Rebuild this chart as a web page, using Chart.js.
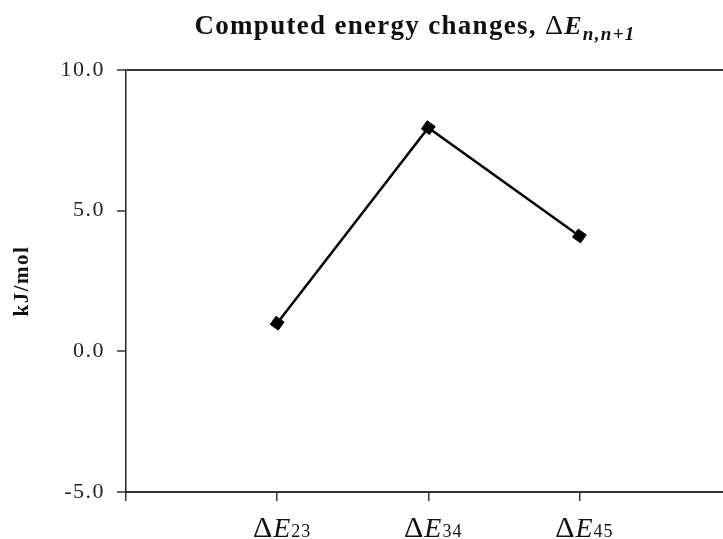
<!DOCTYPE html>
<html>
<head>
<meta charset="utf-8">
<script src="https://cdn.jsdelivr.net/npm/chart.js@4.4.0/dist/chart.umd.min.js"></script>
<style>
  html, body { margin: 0; padding: 0; background: #fff; overflow: hidden; }
  #wrap { width: 723px; height: 539px; }
</style>
</head>
<body>
<div id="wrap"><canvas id="chart"></canvas></div>
<script>
// data
var categories = ['23', '34', '45'];      // subscripts of ΔE
var energies = [1.0, 7.95, 4.1];          // kJ/mol
var yTicks = [-5, 0, 5, 10];

var serif = "'Liberation Serif', 'Times New Roman', serif";

// wider letter spacing like the original rendering
var spacingPlugin = {
  id: 'spacing',
  beforeDraw: function(chart) { chart.ctx.letterSpacing = '1.5px'; }
};

// draws the title and the category labels (they need italic + subscripts)
var textPlugin = {
  id: 'richText',
  afterDraw: function(chart) {
    var ctx = chart.ctx;
    ctx.save();
    ctx.fillStyle = '#111';
    ctx.textBaseline = 'alphabetic';
    ctx.textAlign = 'left';
    ctx.letterSpacing = '1.3px';

    // title
    var parts = [
      { t: 'Computed energy changes, ', f: 'bold 27px ' + serif, dy: 0 },
      { t: '\u0394', f: '28px ' + serif, dy: 0 },
      { t: 'E', f: 'italic bold 26px ' + serif, dy: 0 },
      { t: 'n,n+1', f: 'italic bold 19px ' + serif, dy: 6 }
    ];
    var total = 0;
    parts.forEach(function(p) { ctx.font = p.f; p.w = ctx.measureText(p.t).width; total += p.w; });
    var x = 415 - total / 2;
    parts.forEach(function(p) { ctx.font = p.f; ctx.fillText(p.t, x, 34 + p.dy); x += p.w; });

    // category labels
    ctx.letterSpacing = '1px';
    var xs = chart.scales.x;
    categories.forEach(function(c, i) {
      var lab = [
        { t: '\u0394', f: '30px ' + serif },
        { t: 'E', f: 'italic 28px ' + serif },
        { t: c, f: '18px ' + serif }
      ];
      var w = 0;
      lab.forEach(function(p) { ctx.font = p.f; p.w = ctx.measureText(p.t).width; w += p.w; });
      var lx = xs.getPixelForValue(i + 1) - w / 2 + 5;
      lab.forEach(function(p) { ctx.font = p.f; ctx.fillText(p.t, lx, 537); lx += p.w; });
    });
    ctx.restore();
  }
};

var ctx = document.getElementById('chart').getContext('2d');
new Chart(ctx, {
  type: 'line',
  data: {
    datasets: [{
      data: energies.map(function(v, i) { return { x: i + 1, y: v }; }),
      borderColor: '#000',
      borderWidth: 2.5,
      backgroundColor: '#000',
      pointStyle: 'rect',
      pointRotation: 35,
      pointRadius: 7,
      pointBorderWidth: 1,
      tension: 0
    }]
  },
  options: {
    responsive: true,
    maintainAspectRatio: false,
    animation: false,
    layout: { autoPadding: false, padding: { top: 70, left: 0, right: 0, bottom: 0 } },
    plugins: { legend: { display: false }, tooltip: { enabled: false } },
    scales: {
      x: {
        type: 'linear',
        min: 0,
        max: 3.95,
        afterBuildTicks: function(s) { s.ticks = [0, 1, 2, 3].map(function(v) { return { value: v }; }); },
        afterFit: function(s) { s.height = 47; s.paddingLeft = 0; s.paddingRight = 0; },
        ticks: { autoSkip: false, padding: 0, callback: function() { return ''; } },
        grid: { drawOnChartArea: false, tickLength: 9, color: '#333', lineWidth: 1.5 },
        border: { color: '#333', width: 2 }
      },
      y: {
        min: -5,
        max: 10,
        afterBuildTicks: function(s) { s.ticks = yTicks.map(function(v) { return { value: v }; }); },
        afterFit: function(s) { s.width = 126; },
        ticks: {
          padding: 12,
          color: '#222',
          font: { family: serif, size: 22 },
          callback: function(v) { return v.toFixed(1); }
        },
        grid: {
          tickLength: 9,
          lineWidth: 2,
          tickWidth: 1.5,
          tickColor: '#333',
          color: function(c) { return c.tick && c.tick.value === 10 ? '#333' : 'rgba(0,0,0,0)'; }
        },
        border: { color: '#222', width: 1.5 },
        title: {
          display: true,
          text: 'kJ/mol',
          color: '#111',
          font: { family: serif, size: 21, weight: 'bold' },
          padding: { top: 10, bottom: 0 }
        }
      }
    }
  },
  plugins: [spacingPlugin, textPlugin]
});
</script>
</body>
</html>
